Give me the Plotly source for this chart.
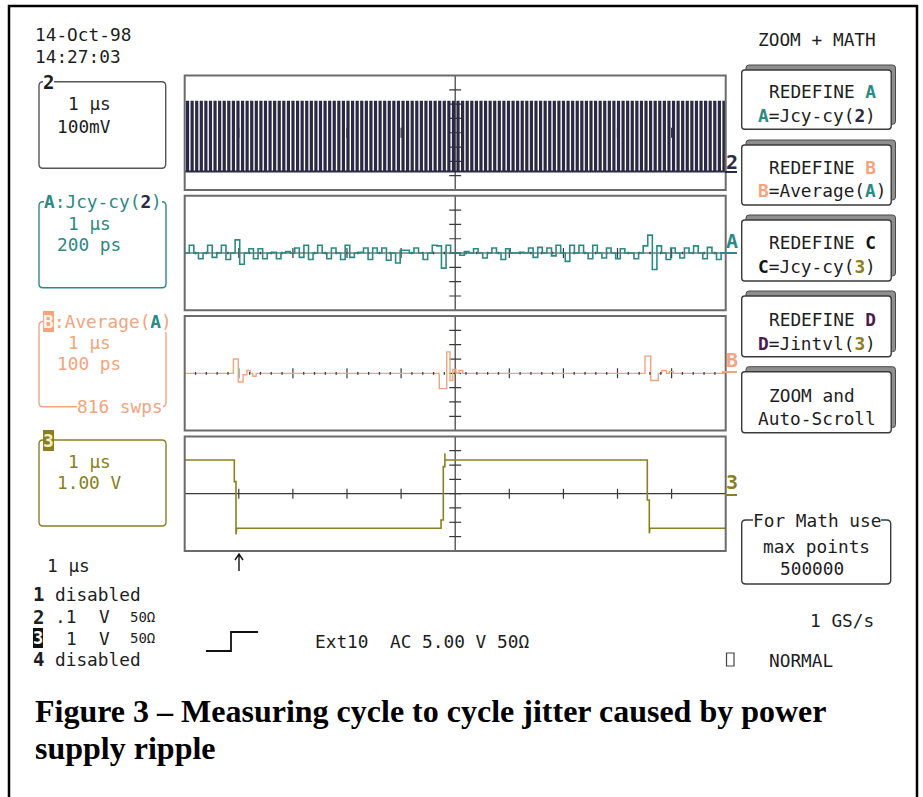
import plotly.graph_objects as go

W, H = 923, 797

# ---------------- data ----------------
time_range = [-5, 5]      # µs, 1 µs/div, 10 divisions
div_range = [-4, 4]       # vertical divisions

# Channel 2 clock (divisions at 100 mV/div)
ch2_cycles = 118
ch2_high = 2.16
ch2_low = -2.71
ch2_duty = 0.24

# Trace A : Jcy-cy(2), one value per clock cycle (divisions at 200 ps/div)
a_values = [0, 0.55, 0, -0.4, 0, 0.55, -0.3, 0, 0.55, -0.45,
            0, 0.92, -0.78, 0, 0.3, -0.4, 0.3, -0.4, 0, 0.05,
            -0.4, 0, 0.1, 0, 0.35, -0.3, 0.55, -0.45, 0, 0.55,
            0, -0.4, 0.35, 0, -0.45, 0.55, -0.3, 0, 0.05, 0.35,
            -0.45, 0.35, 0, 0.35, -0.5, 0, -0.7, 0.2, 0.2, 0,
            0.35, 0, -0.45, 0, 0.55, 0.5, -1.05, 0.55, 0, 0,
            -0.15, 0.1, 0, 0.3, 0, -0.35, 0, 0.35, 0, -0.45,
            0.3, 0, 0, 0.05, 0, 0.35, -0.3, 0.4, 0, 0.35,
            -0.2, 0.55, 0, -0.58, 0.55, 0, 0.55, 0, -0.4, 0.55,
            0, -0.35, 0.35, 0, -0.4, 0.3, 0, 0, -0.4, 0,
            0.5, 1.25, -1.15, 0.5, 0, -0.45, 0.35, 0, -0.35, 0.35,
            0, 0.5, 0, -0.4, 0.4, 0, -0.45, 0]

# Trace B : Average(A) (divisions at 100 ps/div), step values starting at each time
b_time = [-5, -4.10, -4.01, -3.92, -3.85, -3.79, -3.74, -3.68,
          -0.294, -0.157, -0.096, -0.046, 0.015, 0.07, 0.14,
          3.508, 3.614, 3.754, 3.817, 3.909, 3.96, 4.03, 5]
b_value = [0, 1.0, -0.6, -0.1, 0.2, 0, -0.2, 0,
           -1.07, 1.5, -0.5, 0.27, 0, 0.2, 0,
           1.2, -0.5, 0, 0.2, 0, 0.12, 0, 0]

# Channel 3 (divisions at 1 V/div)
ch3_time = [-5, -4.083, -4.083, -4.052, -4.052, -4.040, -0.262, -0.262,
            -0.220, -0.220, -0.190, -0.190, -0.190, 3.551, 3.551, 3.588,
            3.588, 3.600, 5]
ch3_value = [2.35, 2.35, 0.84, 0.84, -2.84, -2.42, -2.42, -1.84,
             -1.84, 1.89, 1.89, 2.82, 2.35, 2.35, -0.44, -0.44,
             -2.77, -2.42, -2.42]

# ---------------- styling ----------------
MONO = "DejaVu Sans Mono"
SERIF = "Liberation Serif"
FS = 17.8
NAVY = "#2a2946"
TEAL = "#2b8a84"
ORANGE = "#f5a47c"
OLIVE = "#8a8020"
PURPLE = "#4a1d4d"
FRAME = "#6b6b6b"
GRAT = "#3a3a3a"
TXT = "#1e1e1e"

PX0, PX1 = 184.7, 725.7
PANEL_H = 114.5
PANEL_TOPS = [75.5, 195.8, 316.1, 436.4]


def px(x):
    return x / W


def py(y):
    return 1 - y / H


def P(x, y):
    return f"{px(x):.5f},{py(y):.5f}"


def rect(x0, y0, x1, y1, color, lw, fill=None):
    return dict(type="rect", xref="paper", yref="paper", x0=px(x0), x1=px(x1),
                y0=py(y1), y1=py(y0), line=dict(color=color, width=lw),
                fillcolor=fill or "rgba(0,0,0,0)")


def seg(x0, y0, x1, y1, color, lw):
    return dict(type="line", xref="paper", yref="paper", x0=px(x0), x1=px(x1),
                y0=py(y0), y1=py(y1), line=dict(color=color, width=lw))


def rrect(x0, y0, x1, y1, r, color, lw, fill=None):
    path = (f"M {P(x0 + r, y0)} L {P(x1 - r, y0)} Q {P(x1, y0)} {P(x1, y0 + r)} "
            f"L {P(x1, y1 - r)} Q {P(x1, y1)} {P(x1 - r, y1)} L {P(x0 + r, y1)} "
            f"Q {P(x0, y1)} {P(x0, y1 - r)} L {P(x0, y0 + r)} Q {P(x0, y0)} {P(x0 + r, y0)} Z")
    return dict(type="path", xref="paper", yref="paper", path=path,
                line=dict(color=color, width=lw), fillcolor=fill or "rgba(0,0,0,0)")


def txt(x, y, s, color=TXT, size=FS, bg=None, anchor="left", family=MONO):
    d = dict(x=px(x), y=py(y), xref="paper", yref="paper", text=s, showarrow=False,
             xanchor=anchor, yanchor="middle", borderpad=0, borderwidth=0,
             font=dict(family=family, size=size, color=color))
    if bg:
        d["bgcolor"] = bg
    return d


def col(s, c, bold=False):
    inner = f"<span style='color:{c}'>{s}</span>"
    return f"<b>{inner}</b>" if bold else inner


fig = go.Figure()

# ---------------- traces ----------------
per = (time_range[1] - time_range[0]) / ch2_cycles
ch2_t, ch2_v = [time_range[0]], [ch2_low]
for i in range(ch2_cycles):
    t0 = time_range[0] + (i + 0.5) * per
    ch2_t += [t0, t0, t0 + ch2_duty * per, t0 + ch2_duty * per]
    ch2_v += [ch2_low, ch2_high, ch2_high, ch2_low]
ch2_t.append(time_range[1])
ch2_v.append(ch2_low)
fig.add_trace(go.Scatter(x=ch2_t, y=ch2_v, mode="lines", line=dict(color=NAVY, width=2.1),
                         xaxis="x", yaxis="y", hoverinfo="skip"))

a_t = [time_range[0] + i * per for i in range(len(a_values))] + [time_range[1]]
a_v = a_values + [a_values[-1]]
fig.add_trace(go.Scatter(x=a_t, y=a_v, mode="lines", line=dict(color=TEAL, width=1.6, shape="hv"),
                         xaxis="x2", yaxis="y2", hoverinfo="skip"))

fig.add_trace(go.Scatter(x=b_time, y=b_value, mode="lines", line=dict(color=ORANGE, width=1.4, shape="hv"),
                         xaxis="x3", yaxis="y3", hoverinfo="skip"))

fig.add_trace(go.Scatter(x=ch3_time, y=ch3_value, mode="lines", line=dict(color=OLIVE, width=1.6),
                         xaxis="x4", yaxis="y4", hoverinfo="skip"))

# ---------------- axes ----------------
layout_axes = {}
for k, top in enumerate(PANEL_TOPS, start=1):
    xs = "xaxis" if k == 1 else f"xaxis{k}"
    ys = "yaxis" if k == 1 else f"yaxis{k}"
    layout_axes[xs] = dict(domain=[px(PX0), px(PX1)], range=time_range, visible=False,
                           anchor="y" if k == 1 else f"y{k}", fixedrange=True)
    layout_axes[ys] = dict(domain=[py(top + PANEL_H), py(top)], range=div_range, visible=False,
                           anchor="x" if k == 1 else f"x{k}", fixedrange=True)

shapes = []
# outer frame
shapes.append(rect(9, 6, 917, 810, "#000000", 2.5))

# graticule
for k in range(1, 5):
    xr = "x" if k == 1 else f"x{k}"
    yr = "y" if k == 1 else f"y{k}"

    def gl(x0, y0, x1, y1, w=1.2, layer="below", c=GRAT):
        shapes.append(dict(type="line", xref=xr, yref=yr, x0=x0, x1=x1, y0=y0, y1=y1,
                           line=dict(color=c, width=w), layer=layer))
    gl(0, -4, 0, 4)
    for d in range(-3, 4):
        gl(-0.11, d, 0.11, d)
    for t in [-4, -3, -2, -1, 1, 2, 3, 4]:
        gl(t, -0.35, t, 0.35)
    if k in (2, 4):
        gl(-5, 0, 5, 0, 1.1)
    if k in (2, 3):
        for j in range(-25, 25):
            t = j * 0.2
            if abs(t - round(t)) > 1e-6:
                gl(t, -0.09, t, 0.09, 1.3, "above" if k == 3 else "below")

# panel frames
for top in PANEL_TOPS:
    shapes.append(rect(PX0, top, PX1, top + PANEL_H, FRAME, 2))

# channel marker underlines on the right
shapes.append(seg(725, 172, 737, 172, NAVY, 2))
shapes.append(seg(720, 253, 737, 253, TEAL, 2))
shapes.append(seg(722, 372, 737, 372, ORANGE, 2))
shapes.append(seg(725, 495, 737, 495, OLIVE, 2))

# channel boxes on the left
shapes.append(rrect(39, 81.7, 165.7, 168.3, 4, "#555555", 1.4))
shapes.append(rrect(39, 201.7, 166, 287.7, 4, TEAL, 1.4))
shapes.append(rrect(39, 321.5, 166, 406.7, 4, ORANGE, 1.4))
shapes.append(rrect(39, 440, 166, 526, 4, OLIVE, 1.4))

# menu buttons on the right
for top, bot in [(70, 129.3), (145, 205), (220, 281), (296, 356.7), (371.7, 432.7)]:
    shapes.append(rrect(746, top - 5, 895.5, bot - 5, 3, "#4a4a4a", 1, "#8e8e8e"))
    shapes.append(rrect(741.7, top, 891.2, bot, 3, "#3a3a3a", 1.4, "#ffffff"))

# "For Math use" box
shapes.append(rrect(741.7, 520, 890.7, 584, 4, "#3a3a3a", 1.4))

# NORMAL square
shapes.append(rect(726.5, 653, 734, 666, "#444444", 1.2))

# trigger symbol
shapes.append(dict(type="path", xref="paper", yref="paper",
                   path=f"M {P(206, 651)} L {P(231, 651)} L {P(231, 632)} L {P(258, 632)}",
                   line=dict(color="#111111", width=1.8)))

# arrow under the bottom panel
shapes.append(dict(type="path", xref="paper", yref="paper",
                   path=f"M {P(239, 571)} L {P(239, 554)} M {P(235, 560)} L {P(239, 554)} L {P(243, 560)}",
                   line=dict(color="#111111", width=1.4)))

# ---------------- annotations ----------------
ann = []
ann.append(txt(35, 34.7, "14-Oct-98"))
ann.append(txt(35, 56.7, "14:27:03"))
ann.append(txt(757.7, 39.3, "ZOOM + MATH"))

# box 2
ann.append(txt(43, 81.7, "<b>2</b>", color=TXT, size=19, bg="white"))
ann.append(txt(68.3, 103.3, "1 µs"))
ann.append(txt(57.3, 126.5, "100mV"))

# box A
ann.append(txt(44, 201.7, col("A", TEAL, True) + col(":Jcy-cy(", TEAL) + col("2", NAVY, True) + col(")", TEAL),
               bg="white"))
ann.append(txt(68.3, 223.3, "1 µs", color=TEAL))
ann.append(txt(57.3, 245, "200 ps", color=TEAL))

# box B
ann.append(txt(43.3, 321.5, "<b>B</b>", color="#fff3ea", bg=ORANGE))
ann.append(txt(54.1, 321.5, col(":Average(", ORANGE) + col("A", TEAL, True) + col(")", ORANGE), bg="white"))
ann.append(txt(68.3, 342.7, "1 µs", color=ORANGE))
ann.append(txt(57.3, 363.3, "100 ps", color=ORANGE))
ann.append(txt(77, 406.7, "816 swps", color=ORANGE, bg="white"))

# box 3
ann.append(txt(43.3, 441, "<b>3</b>", color="#f4f0c8", bg=OLIVE))
ann.append(txt(68.3, 461.7, "1 µs", color=OLIVE))
ann.append(txt(57.3, 482.3, "1.00 V", color=OLIVE))

# bottom-left settings
ann.append(txt(46.7, 565.7, "1 µs"))
ann.append(txt(33, 594, "<b>1</b>", size=19))
ann.append(txt(55, 594, "disabled"))
ann.append(txt(33, 616.7, "<b>2</b>", size=19))
ann.append(txt(55, 616.7, ".1"))
ann.append(txt(99, 616.7, "V"))
ann.append(txt(129.5, 616.7, "50Ω", size=14))
ann.append(txt(32.5, 638.3, "<b>3</b>", color="#ffffff", size=17, bg="#111111"))
ann.append(txt(66, 638.3, "1"))
ann.append(txt(99, 638.3, "V"))
ann.append(txt(129.5, 638.3, "50Ω", size=14))
ann.append(txt(33, 659.3, "<b>4</b>", size=19))
ann.append(txt(55, 659.3, "disabled"))

# trigger text
ann.append(txt(315, 641, "Ext10  AC 5.00 V 50Ω"))

# right channel markers
ann.append(txt(726, 161.5, "<b>2</b>", color=NAVY, size=20))
ann.append(txt(726, 240.5, "<b>A</b>", color=TEAL, size=20))
ann.append(txt(726, 360, "<b>B</b>", color=ORANGE, size=20))
ann.append(txt(726, 482.5, "<b>3</b>", color=OLIVE, size=20))

# menu buttons
ann.append(txt(769, 91.7, "REDEFINE " + col("A", TEAL, True)))
ann.append(txt(757.7, 115, col("A", TEAL, True) + "=Jcy-cy(" + col("2", NAVY, True) + ")"))
ann.append(txt(769, 167.3, "REDEFINE " + col("B", ORANGE, True)))
ann.append(txt(757.7, 190.7, col("B", ORANGE, True) + "=Average(" + col("A", TEAL, True) + ")"))
ann.append(txt(769, 242.7, "REDEFINE " + col("C", "#111111", True)))
ann.append(txt(757.7, 266.7, col("C", "#111111", True) + "=Jcy-cy(" + col("3", OLIVE, True) + ")"))
ann.append(txt(769, 319.3, "REDEFINE " + col("D", PURPLE, True)))
ann.append(txt(757.7, 343.3, col("D", PURPLE, True) + "=Jintvl(" + col("3", OLIVE, True) + ")"))
ann.append(txt(769.3, 395, "ZOOM and"))
ann.append(txt(757.7, 418.3, "Auto-Scroll"))

ann.append(txt(753, 520, "For Math use", bg="white"))
ann.append(txt(762.7, 546.7, "max points"))
ann.append(txt(780, 568.3, "500000"))
ann.append(txt(810, 620, "1 GS/s"))
ann.append(txt(769, 660, "NORMAL"))

# caption
ann.append(txt(35, 711, "<b>Figure 3 – Measuring cycle to cycle jitter caused by power</b>",
               color="#000000", size=32, family=SERIF))
ann.append(txt(35, 748, "<b>supply ripple</b>", color="#000000", size=32, family=SERIF))

fig.update_layout(
    width=W, height=H, autosize=False,
    margin=dict(l=0, r=0, t=0, b=0),
    paper_bgcolor="white", plot_bgcolor="white",
    showlegend=False,
    shapes=shapes, annotations=ann,
    **layout_axes,
)

fig.write_html("out.html", config={"displayModeBar": False},
               post_script="document.body.style.margin='0';document.body.style.overflow='hidden';")
